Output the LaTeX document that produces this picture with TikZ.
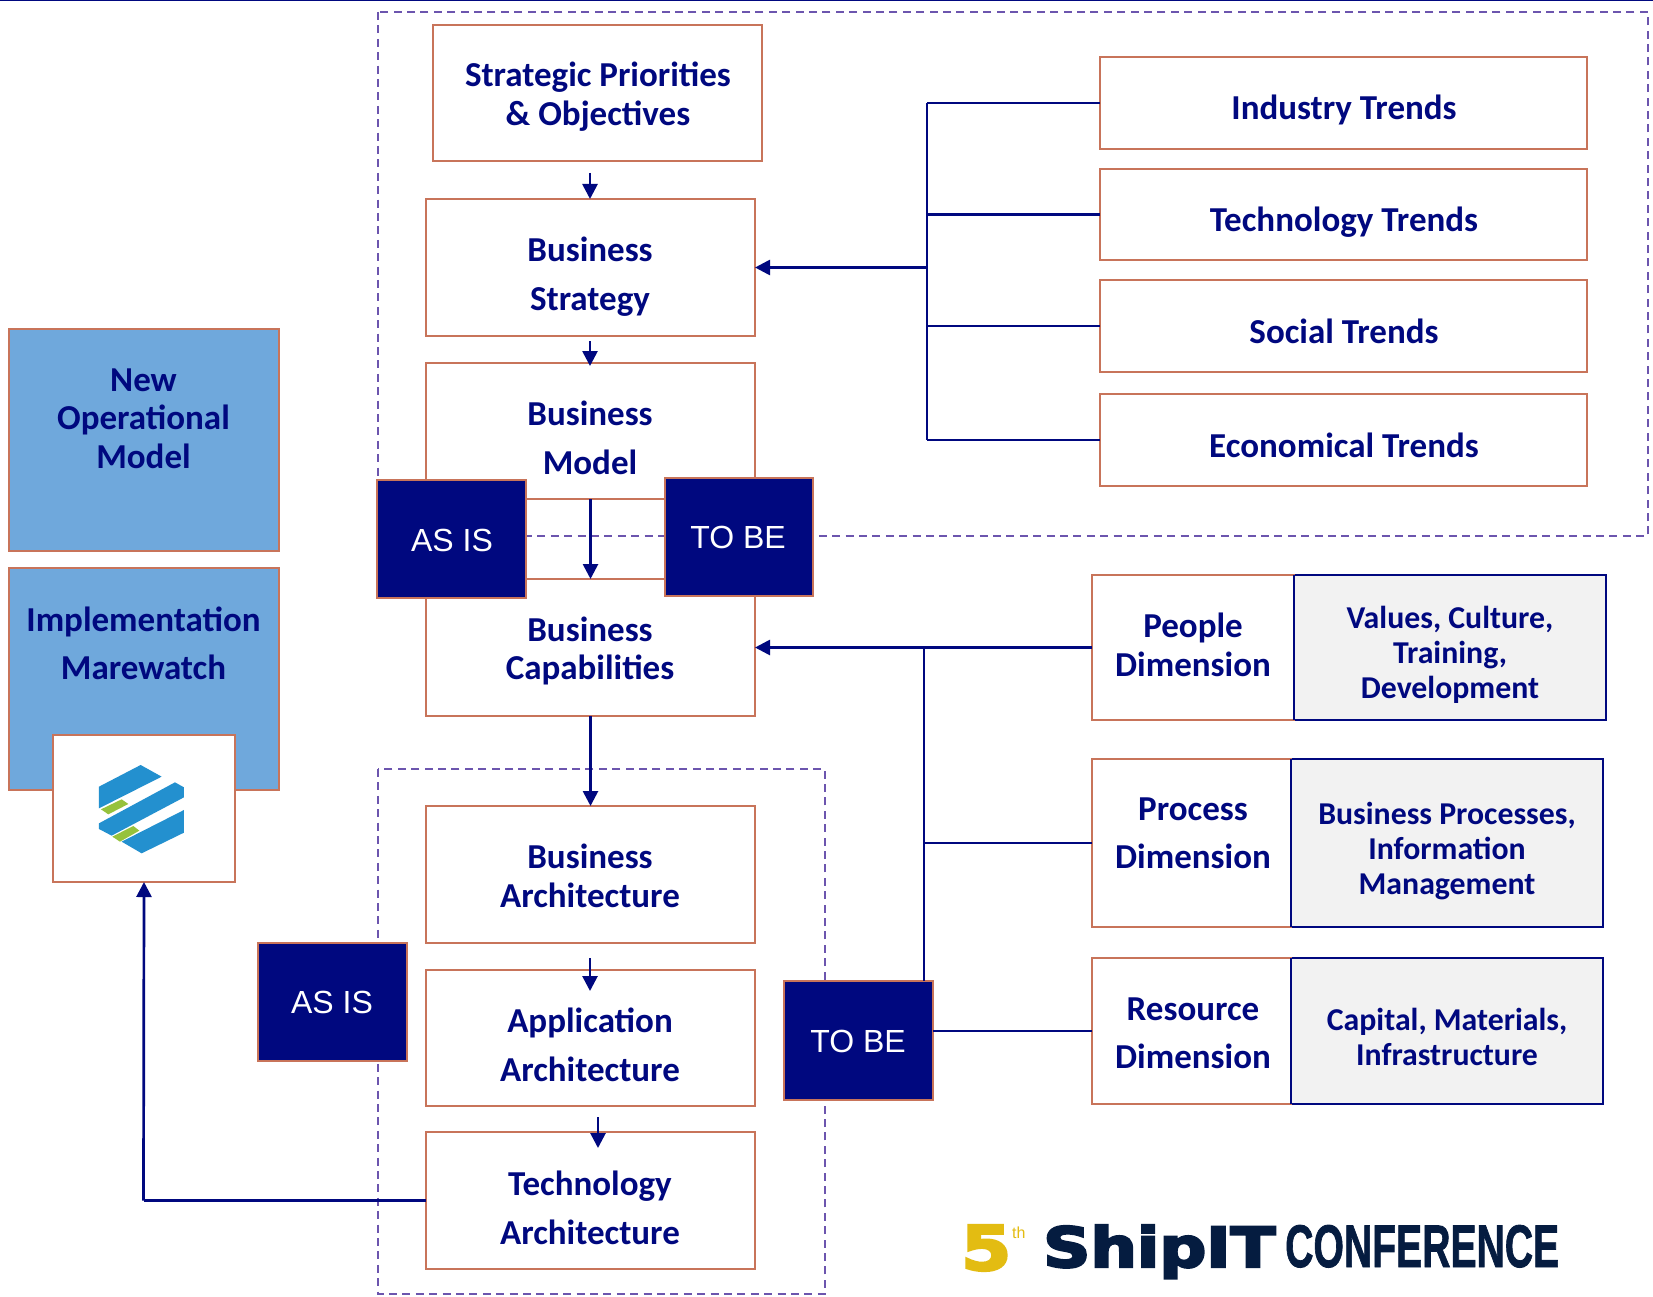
\documentclass[tikz,border=0pt]{standalone}
\usepackage{fontspec}
\setmainfont{Carlito}
\newfontfamily\arialf{Liberation Sans}
\newfontfamily\heavyf[FakeBold=4]{DejaVu Sans Bold}
\newfontfamily\condf[FakeBold=1.5]{Liberation Sans Bold}
\usetikzlibrary{arrows.meta}
\definecolor{navy}{HTML}{00087F}
\definecolor{edge}{HTML}{C8745A}
\definecolor{bluefill}{HTML}{6FA8DC}
\definecolor{grayfill}{HTML}{F2F2F2}
\definecolor{dashc}{HTML}{6C55AE}
\definecolor{gold}{HTML}{E3BC12}
\definecolor{inkc}{HTML}{051C40}
\definecolor{logob}{HTML}{2390CF}
\definecolor{logog}{HTML}{96C23C}
\tikzset{
  x=1pt,y=-1pt,
  anybox/.style={inner sep=0pt,outer sep=0pt,line width=1.8pt},
  plainbox/.style={anybox,draw=edge,fill=white},
  bluebox/.style={anybox,draw=edge,fill=bluefill},
  navybox/.style={anybox,draw=edge,fill=navy},
  graybox/.style={anybox,draw=navy,fill=grayfill},
  lbl/.style={align=center,text=navy,inner sep=0pt,font=\bfseries},
  whitelbl/.style={text=white,inner sep=0pt,font=\arialf\fontsize{32}{38}\selectfont},
  conn/.style={draw=navy,line width=2.7pt},
  arr/.style={conn,-{Triangle[width=15pt,length=15pt]}},
  dashbox/.style={draw=dashc,line width=1.6pt,dash pattern=on 8pt off 5.4pt},
}
\newcommand{\bx}[6]{\node[#2,minimum width={(#5-#3)*1pt},minimum height={(#6-#4)*1pt}] (#1) at ({(#3+#5)/2},{(#4+#6)/2}) {};}
\newcommand{\lh}[1]{\fontsize{35}{#1}\selectfont}
\newcommand{\sm}[1]{\fontsize{31.8}{#1}\selectfont}
\begin{document}
\begin{tikzpicture}
\useasboundingbox (0,0) rectangle (1653,1297);
\fill[white] (0,0) rectangle (1653,1297);
\coordinate (topA) at (0,0.5);
\coordinate (topB) at (1653,0.5);
\draw[navy,line width=1pt] (topA) -- (topB);
% dashed groups
\coordinate (dtl) at (378,12);
\coordinate (dbr) at (1648,536);
\coordinate (ltl) at (378,769);
\coordinate (lbr) at (825,1294);
\draw[dashbox] (dtl) rectangle (dbr);
\draw[dashbox] (ltl) rectangle (lbr);
% left column
\bx{newop}{bluebox}{9}{329}{279}{551}
\bx{impl}{bluebox}{9}{568}{279}{790}
\bx{logo}{plainbox}{53}{735}{235}{882}
\node[lbl,font=\bfseries\lh{38.5}] (newopT) at (143.5,418.5) {New\\Operational\\Model};
\node[lbl,font=\bfseries\lh{48}] (implT) at (143.5,643) {Implementation\\Marewatch};
% logo mark
\begin{scope}[x=0.3333pt,y=-0.3333pt,yshift=-680pt]
\fill[logob] (297,320) -- (422,255) -- (485,290) -- (297,385) -- cycle;
\fill[logob] (297,430) -- (525,307) -- (552,322) -- (552,352) -- (335,467) -- (297,447) -- cycle;
\fill[logob] (552,390) -- (552,458) -- (425,520) -- (365,485) -- cycle;
\fill[logog] (303,388) -- (365,358) -- (385,372) -- (325,403) -- cycle;
\fill[logog] (337,470) -- (400,438) -- (418,452) -- (360,485) -- cycle;
\end{scope}
% centre column
\bx{prio}{plainbox}{433}{25}{762}{161}
\bx{bs}{plainbox}{426}{199}{755}{336}
\bx{bm}{plainbox}{426}{363}{755}{499}
\bx{bc}{plainbox}{426}{579}{755}{716}
\bx{ba}{plainbox}{426}{806}{755}{943}
\bx{aa}{plainbox}{426}{970}{755}{1106}
\bx{ta}{plainbox}{426}{1132}{755}{1269}
\node[lbl,font=\bfseries\lh{39}] (prioT) at (598,97) {Strategic Priorities\\\& Objectives};
\node[lbl,font=\bfseries\lh{49}] (bsT) at (590,277) {Business\\Strategy};
\node[lbl,font=\bfseries\lh{49}] (bmT) at (590,437.5) {Business\\Model};
\node[lbl,font=\bfseries\lh{38}] (bcT) at (590,651) {Business\\Capabilities};
\node[lbl,font=\bfseries\lh{38.5}] (baT) at (590,876) {Business\\Architecture};
\node[lbl,font=\bfseries\lh{49}] (aaT) at (590,1044.5) {Application\\Architecture};
\node[lbl,font=\bfseries\lh{49}] (taT) at (590,1207.5) {Technology\\Architecture};
% trends
\bx{t1}{plainbox}{1100}{57}{1587}{149}
\bx{t2}{plainbox}{1100}{169}{1587}{260}
\bx{t3}{plainbox}{1100}{280}{1587}{372}
\bx{t4}{plainbox}{1100}{394}{1587}{486}
\node[lbl,font=\bfseries\lh{38}] (t1T) at (1344,110) {Industry Trends};
\node[lbl,font=\bfseries\lh{38}] (t2T) at (1344,222) {Technology Trends};
\node[lbl,font=\bfseries\lh{38}] (t3T) at (1344,331) {Social Trends};
\node[lbl,font=\bfseries\lh{38}] (t4T) at (1344,445) {Economical Trends};
% dimensions
\bx{peopleB}{graybox}{1294}{575}{1606}{720}
\bx{people}{plainbox}{1092}{575}{1294}{720}
\bx{procB}{graybox}{1291}{759}{1603}{927}
\bx{proc}{plainbox}{1092}{759}{1291}{927}
\bx{resB}{graybox}{1291}{958}{1603}{1104}
\bx{res}{plainbox}{1092}{958}{1291}{1104}
\draw[navy,line width=1.8pt] (people.north east) -- (people.south east);
\draw[navy,line width=1.8pt] (proc.north east) -- (proc.south east);
\draw[navy,line width=1.8pt] (res.north east) -- (res.south east);
\node[lbl,font=\bfseries\lh{39}] (peopleT) at (1193,644.5) {People\\Dimension};
\node[lbl,font=\bfseries\lh{48}] (procT) at (1193,833.5) {Process\\Dimension};
\node[lbl,font=\bfseries\lh{48}] (resT) at (1193,1033.5) {Resource\\Dimension};
\node[lbl,font=\bfseries\sm{35}] (peopleBT) at (1450,655) {Values, Culture,\\Training,\\Development};
\node[lbl,font=\bfseries\sm{35}] (procBT) at (1447,851) {Business Processes,\\Information\\Management};
\node[lbl,font=\bfseries\sm{35}] (resBT) at (1447,1037) {Capital, Materials,\\Infrastructure};
% connectors upper
\coordinate (j1) at (927,267.5);
\draw[conn] (t1.west -| j1) -- (t4.west -| j1);
\draw[conn] (t1.west) -- (t1.west -| j1);
\draw[conn] (t2.west) -- (t2.west -| j1);
\draw[conn] (t3.west) -- (t3.west -| j1);
\draw[conn] (t4.west) -- (t4.west -| j1);
\draw[arr] (j1) -- (bs.east);
% vertical arrows
\coordinate (s1) at (590,173);
\coordinate (e1) at (590,199);
\coordinate (s2) at (590,341);
\coordinate (e2) at (590,366);
\coordinate (s3) at (590,958);
\coordinate (e3) at (590,991);
\coordinate (s4) at (598,1117);
\coordinate (e4) at (598,1148);
\draw[arr] (s1) -- (e1);
\draw[arr] (s2) -- (e2);
\draw[arr] (bm.south) -- (bc.north);
\draw[arr] (bc.south) -- (ba.north);
\draw[arr] (s3) -- (e3);
\draw[arr] (s4) -- (e4);
% as-is / to-be
\bx{asis1}{navybox}{377}{480}{526}{598}
\bx{tobe1}{navybox}{665}{478}{813}{596}
\bx{asis2}{navybox}{258}{943}{407}{1061}
\bx{tobe2}{navybox}{784}{981}{933}{1100}
\node[whitelbl] (asis1T) at (452,540) {AS IS};
\node[whitelbl] (tobe1T) at (738,537) {TO BE};
\node[whitelbl] (asis2T) at (332,1002) {AS IS};
\node[whitelbl] (tobe2T) at (858,1041) {TO BE};
% connectors lower
\coordinate (j2) at (924,647.5);
\draw[conn] (j2) -- (j2 |- tobe2.north);
\draw[conn] (people.west) -- (j2);
\draw[arr] (j2) -- (bc.east);
\draw[conn] (proc.west) -- (proc.west -| j2);
\draw[conn] (res.west) -- (res.west -| tobe2.east);
\coordinate (j3) at (143.5,1200.5);
\draw[conn] (ta.west) -- (j3);
\draw[arr] (j3) -- (logo.south);
% conference logo
\node[anchor=base west,inner sep=0pt,text=gold] (five) at (961,1270) {\resizebox{50pt}{45pt}{\heavyf 5}};
\node[anchor=base west,inner sep=0pt,text=gold] (th) at (1012,1238) {\arialf\fontsize{16}{16}\selectfont th};
\node[anchor=base west,inner sep=0pt,text=inkc] (ship) at (1043,1267) {\resizebox{232pt}{42pt}{\heavyf ShipIT}};
\node[anchor=base west,inner sep=0pt,text=inkc] (conf) at (1285,1267) {\resizebox{274pt}{42pt}{\condf CONFERENCE}};
\end{tikzpicture}
\end{document}
